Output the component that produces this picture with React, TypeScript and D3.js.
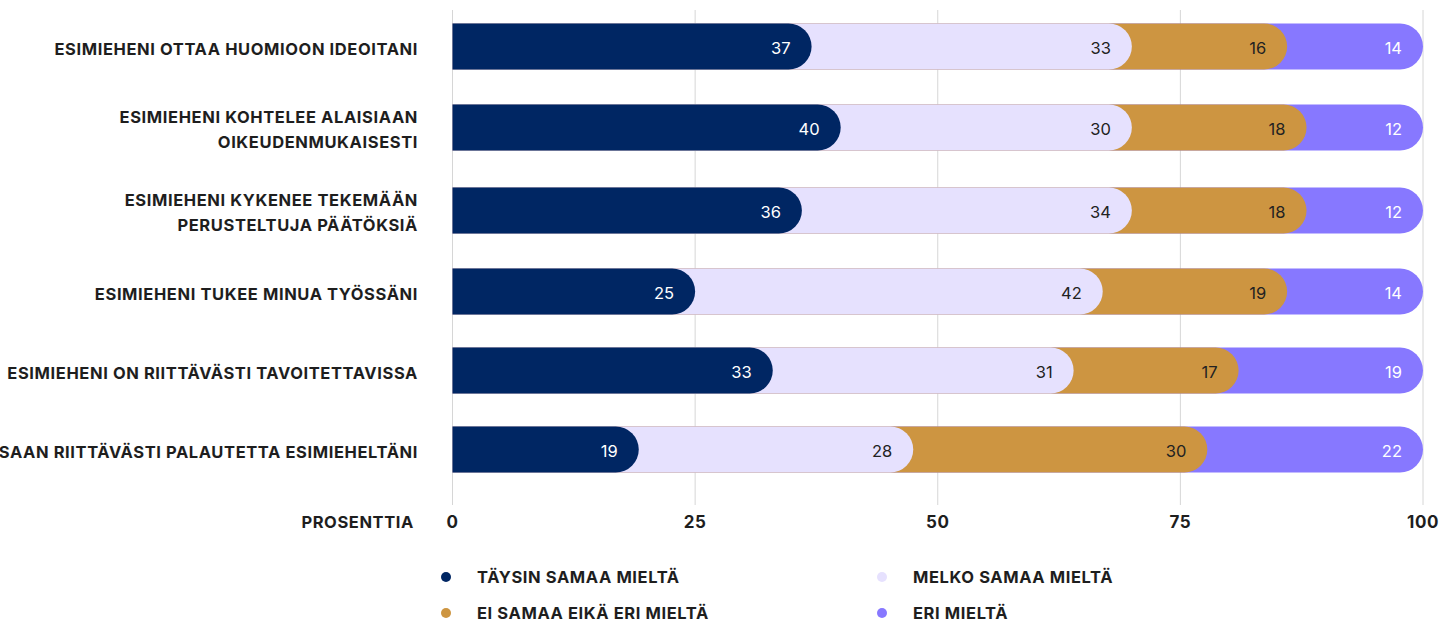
import React from "react";
import * as d3 from "d3";

const categories: string[][] = [
  ["ESIMIEHENI OTTAA HUOMIOON IDEOITANI"],
  ["ESIMIEHENI KOHTELEE ALAISIAAN", "OIKEUDENMUKAISESTI"],
  ["ESIMIEHENI KYKENEE TEKEMÄÄN", "PERUSTELTUJA PÄÄTÖKSIÄ"],
  ["ESIMIEHENI TUKEE MINUA TYÖSSÄNI"],
  ["ESIMIEHENI ON RIITTÄVÄSTI TAVOITETTAVISSA"],
  ["SAAN RIITTÄVÄSTI PALAUTETTA ESIMIEHELTÄNI"],
];
const seriesNames = ["TÄYSIN SAMAA MIELTÄ", "MELKO SAMAA MIELTÄ", "EI SAMAA EIKÄ ERI MIELTÄ", "ERI MIELTÄ"];
const taysin = [37, 40, 36, 25, 33, 19];
const melko = [33, 30, 34, 42, 31, 28];
const eiSamaa = [16, 18, 18, 19, 17, 30];
const eri = [14, 12, 12, 14, 19, 22];
const seriesColors = ["#002663", "#E6E1FE", "#CD9541", "#8778FF"];
const labelColors = ["#ffffff", "#222222", "#222222", "#ffffff"];
const xTicks = [0, 25, 50, 75, 100];
const axisTitle = "PROSENTTIA";

const W = 1456;
const H = 622;
const FONT = "Inter, 'Noto Sans', sans-serif";
const LBL_SIZE = 16.5;
const LBL_LS = 0.6;

export default function App() {
  const keys = ["k0", "k1", "k2", "k3"];
  const cols = [taysin, melko, eiSamaa, eri];
  const rows = categories.map((c, i) => {
    const r: any = { i };
    keys.forEach((k, j) => (r[k] = cols[j][i]));
    return r;
  });
  const stacked = d3.stack().keys(keys).offset(d3.stackOffsetExpand)(rows);

  const x = d3.scaleLinear().domain([0, 1]).range([452.5, 1423]);
  const xt = d3.scaleLinear().domain([0, 100]).range([452.5, 1423]);

  // row layout: slot height grows with label line count
  const slots = categories.map((c) => 79 + 4 * (c.length - 1));
  const ends = Array.from(d3.cumsum(slots));
  const top0 = 7;
  const centers = slots.map((s, i) => top0 + ends[i] - s / 2);
  const barH = 46;
  const r = barH / 2;

  const barPath = (x0: number, x1: number, yc: number) => {
    const y0 = yc - barH / 2;
    return `M${x0},${y0}H${x1 - r}A${r},${r} 0 0 1 ${x1 - r},${y0 + barH}H${x0}Z`;
  };

  const legendPos = [
    { x: 446, y: 577 },
    { x: 882, y: 577 },
    { x: 446, y: 613 },
    { x: 882, y: 613 },
  ];

  return (
    <svg width={W} height={H} style={{ position: "absolute", left: 0, top: 0, background: "#fff" }} fontFamily={FONT}>
      {/* gridlines */}
      {xTicks.map((t) => (
        <line key={t} x1={xt(t)} x2={xt(t)} y1={10} y2={505} stroke="#d6d6d6" strokeWidth={1} />
      ))}
      {/* bars: draw later series first so earlier ones overlap with rounded caps */}
      {rows.map((row, i) => (
        <g key={i}>
          {[...stacked].reverse().map((s) => {
            const j = s.index;
            const d = s[i];
            return <path key={j} d={barPath(x(0), x(d[1]), centers[i])} fill={seriesColors[j]} />;
          })}
          {stacked.map((s) => {
            const j = s.index;
            const d = s[i];
            return (
              <text
                key={"t" + j}
                x={x(d[1]) - 21}
                y={centers[i] + 1}
                textAnchor="end"
                dominantBaseline="central"
                fontSize={16.5}
                fontWeight={400}
                fill={labelColors[j]}
              >
                {cols[j][i]}
              </text>
            );
          })}
        </g>
      ))}
      {/* category labels */}
      {categories.map((lines, i) => (
        <text
          key={"c" + i}
          x={418}
          textAnchor="end"
          fontSize={LBL_SIZE}
          fontWeight={700}
          letterSpacing={LBL_LS}
          fill="#1e1e1e"
        >
          {lines.map((l, k) => (
            <tspan key={k} x={418} y={centers[i] + 2 + (k - (lines.length - 1) / 2) * 25.5} dominantBaseline="central">
              {l}
            </tspan>
          ))}
        </text>
      ))}
      {/* x tick labels */}
      {xTicks.map((t) => (
        <text key={"x" + t} x={xt(t)} y={522} textAnchor="middle" dominantBaseline="central" fontSize={17} fontWeight={700} letterSpacing={0.6} fill="#1e1e1e">
          {t}
        </text>
      ))}
      <text x={414} y={522} textAnchor="end" dominantBaseline="central" fontSize={LBL_SIZE} fontWeight={700} letterSpacing={LBL_LS} fill="#1e1e1e">
        {axisTitle}
      </text>
      {/* legend */}
      {seriesNames.map((n, j) => (
        <g key={"l" + j}>
          <circle cx={legendPos[j].x} cy={legendPos[j].y} r={5} fill={seriesColors[j]} />
          <text x={legendPos[j].x + 31} y={legendPos[j].y} dominantBaseline="central" fontSize={LBL_SIZE} fontWeight={700} letterSpacing={LBL_LS} fill="#1e1e1e">
            {n}
          </text>
        </g>
      ))}
    </svg>
  );
}
